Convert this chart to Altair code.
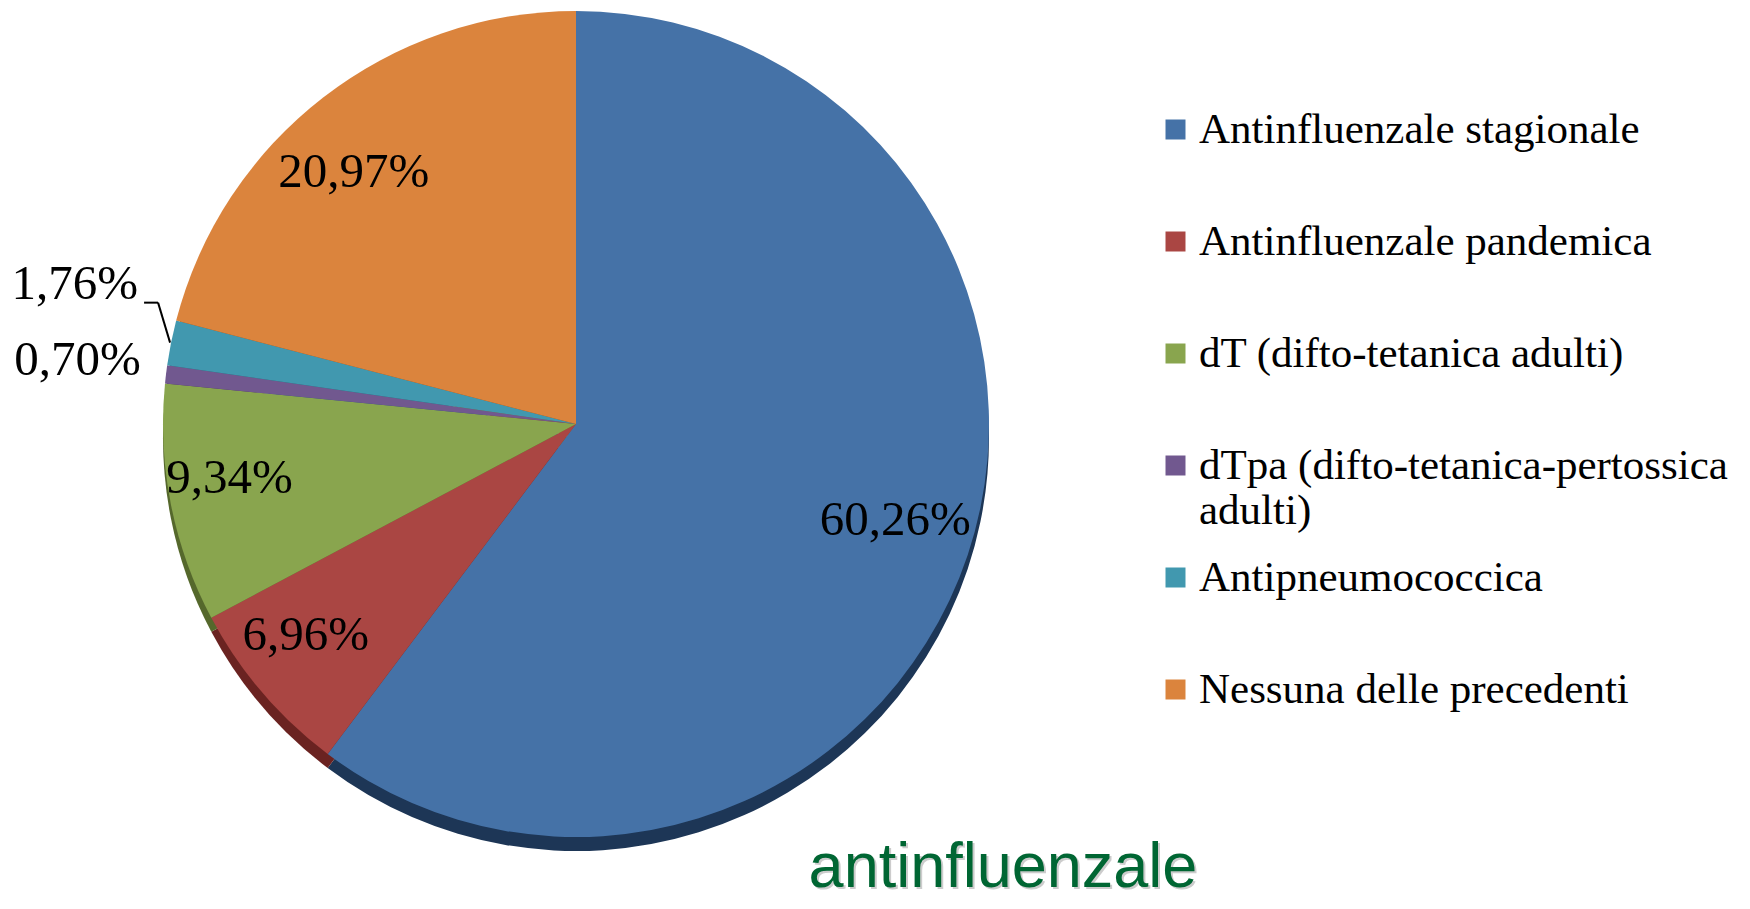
import altair as alt
import pandas as pd

categories = [
    "Antinfluenzale stagionale",
    "Antinfluenzale pandemica",
    "dT (difto-tetanica adulti)",
    "dTpa (difto-tetanica-pertossica adulti)",
    "Antipneumococcica",
    "Nessuna delle precedenti",
]
values = [60.26, 6.96, 9.34, 0.70, 1.76, 20.97]
labels = ["60,26%", "6,96%", "9,34%", "0,70%", "1,76%", "20,97%"]
colors = ["#4572A7", "#AA4643", "#89A54E", "#71588F", "#4198AF", "#DB843D"]
shadow_colors = ["#1d3656", "#6a2321", "#55682c", "#45345a", "#25606f", "#8a4f22"]
title_text = "antinfluenzale"

df = pd.DataFrame({
    "cat": categories,
    "val": values,
    "label": labels,
    "order": list(range(len(categories))),
})

total = float(sum(values))
W, H = 1734, 893
CX, CY, R = 568, 416, 413
LABEL_FONT = "Liberation Serif"
LABEL_SIZE = 49

theta_scale = alt.Scale(domain=[0, total])
color_scale = alt.Scale(domain=categories, range=colors)
shadow_scale = alt.Scale(domain=categories, range=shadow_colors)

base = (
    alt.Chart(df)
    .transform_window(cum="sum(val)", sort=[alt.SortField("order")], frame=[None, 0])
    .transform_calculate(start="datum.cum - datum.val", mid="datum.cum - datum.val / 2")
)

shadow = base.mark_arc(radius=R, stroke=None).encode(
    theta=alt.Theta("start:Q", scale=theta_scale, stack=None),
    theta2="cum:Q",
    color=alt.Color("cat:N", scale=shadow_scale, legend=None),
    x=alt.value(CX),
    y=alt.value(CY + 14),
)

pie = base.mark_arc(radius=R, stroke=None).encode(
    theta=alt.Theta("start:Q", scale=theta_scale, stack=None),
    theta2="cum:Q",
    color=alt.Color(
        "cat:N",
        scale=color_scale,
        legend=alt.Legend(
            title=None,
            orient="none",
            legendX=1146,
            legendY=100,
            direction="vertical",
            symbolType="square",
            symbolSize=400,
            symbolStrokeWidth=0,
            labelFont=LABEL_FONT,
            labelFontSize=43,
            labelColor="black",
            labelLimit=800,
            labelOffset=2,
            rowPadding=23,
            gridAlign="all",
            labelExpr="datum.label == 'dTpa (difto-tetanica-pertossica adulti)' ? ['dTpa (difto-tetanica-pertossica', 'adulti)'] : datum.label",
        ),
    ),
    x=alt.value(CX),
    y=alt.value(CY),
)


def slice_label(expr, radius, dx=0, dy=0):
    return base.transform_filter(expr).mark_text(
        radius=radius, font=LABEL_FONT, fontSize=LABEL_SIZE, color="black", dx=dx, dy=dy
    ).encode(
        theta=alt.Theta("mid:Q", scale=theta_scale, stack=None),
        text="label:N",
        x=alt.value(CX),
        y=alt.value(CY),
    )


inside_main = slice_label("datum.order <= 2", 345, dx=-8, dy=-13)
inside_orange = slice_label("datum.order == 5", 345, dx=-11, dy=21)
out_purple = slice_label("datum.order == 3", 500, dx=-2, dy=-4)
out_teal = slice_label("datum.order == 4", 500, dx=-11, dy=-42)

lead = (
    base.transform_filter("datum.order == 4")
    .transform_calculate(a="2 * PI * datum.mid / %f" % total)
    .transform_calculate(
        ex="%f + %f * sin(datum.a)" % (CX, R + 1),
        ey="%f - %f * cos(datum.a)" % (CY, R + 1),
    )
    .transform_calculate(kx="datum.ex - 12", ky="datum.ey - 40")
    .transform_calculate(hx="datum.kx - 14")
)
lead1 = lead.mark_rule(color="black", strokeWidth=2).encode(
    x=alt.X("ex:Q", scale=None), y=alt.Y("ey:Q", scale=None),
    x2="kx:Q", y2="ky:Q",
)
lead2 = lead.mark_rule(color="black", strokeWidth=2).encode(
    x=alt.X("kx:Q", scale=None), y=alt.Y("ky:Q", scale=None),
    x2="hx:Q", y2="ky:Q",
)

title_df = pd.DataFrame({"t": [title_text]})
title_shadow = alt.Chart(title_df).mark_text(
    font="Liberation Sans", fontSize=63, color="#9a9a9a", opacity=0.5,
    align="center", baseline="alphabetic", dx=2, dy=2,
).encode(text="t:N", x=alt.value(995), y=alt.value(879))
title = alt.Chart(title_df).mark_text(
    font="Liberation Sans", fontSize=63, color="#006633",
    align="center", baseline="alphabetic",
).encode(text="t:N", x=alt.value(995), y=alt.value(879))

chart = (
    alt.layer(shadow, pie, inside_main, inside_orange, out_purple, out_teal,
              lead1, lead2, title_shadow, title)
    .resolve_scale(color="independent")
    .properties(width=W, height=H, autosize=alt.AutoSizeParams(type="none"),
                padding=0, background="white")
    .configure_view(stroke=None)
)

chart.save("out.html", embed_options={"renderer": "svg", "actions": False})
